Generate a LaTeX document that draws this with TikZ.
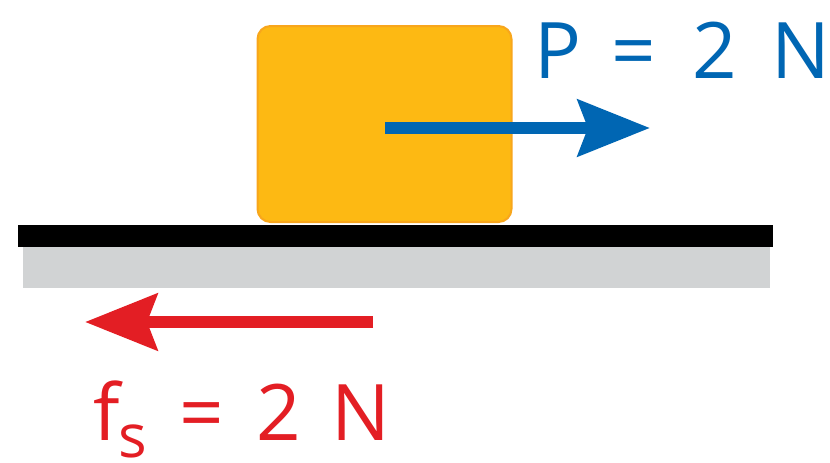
\documentclass[tikz,border=0pt]{standalone}
\usepackage{fontspec}
\setmainfont{Open Sans}
\usetikzlibrary{arrows.meta}
\definecolor{boxfill}{HTML}{FDB913}
\definecolor{boxedge}{HTML}{F8A61C}
\definecolor{pblue}{HTML}{0066B3}
\definecolor{fred}{HTML}{E31E24}
\definecolor{ground}{HTML}{D1D3D4}
\tikzset{
  force/.style={line width=12pt, -{Stealth[length=72pt,width=56pt,inset=10pt]}},
  lab/.style={inner sep=0pt, anchor=base west, font=\fontsize{78}{78}\selectfont},
}
\begin{document}
\begin{tikzpicture}[x=1pt,y=-1pt]
\useasboundingbox (0,0) rectangle (830,463);
% ground
\fill[ground] (23,246) rectangle (770,288);
\fill[black] (18,225) rectangle (773,247);
% block
\node[draw=boxedge, fill=boxfill, line width=2pt, rounded corners=13pt, minimum width=254pt, minimum height=196pt, inner sep=0pt] (block) at (384.5,124) {};
% forces
\coordinate (pstart) at (385,128);
\coordinate (pend) at (650,128);
\draw[force, pblue] (pstart) -- (pend);
\coordinate (fstart) at (373,322);
\coordinate (fend) at (85,322);
\draw[force, fred] (fstart) -- (fend);
% labels
\node[lab, text=pblue] (plab) at (534,78) {P\hspace{30pt}=\hspace{37pt}2\hspace{34pt}N};
\node[lab, text=fred] (flab) at (93,440) {f\hspace{-1pt}\smash{\raisebox{-17pt}{\fontsize{60}{60}\selectfont s}}\hspace{32pt}=\hspace{33pt}2\hspace{30pt}N};
\end{tikzpicture}
\end{document}
